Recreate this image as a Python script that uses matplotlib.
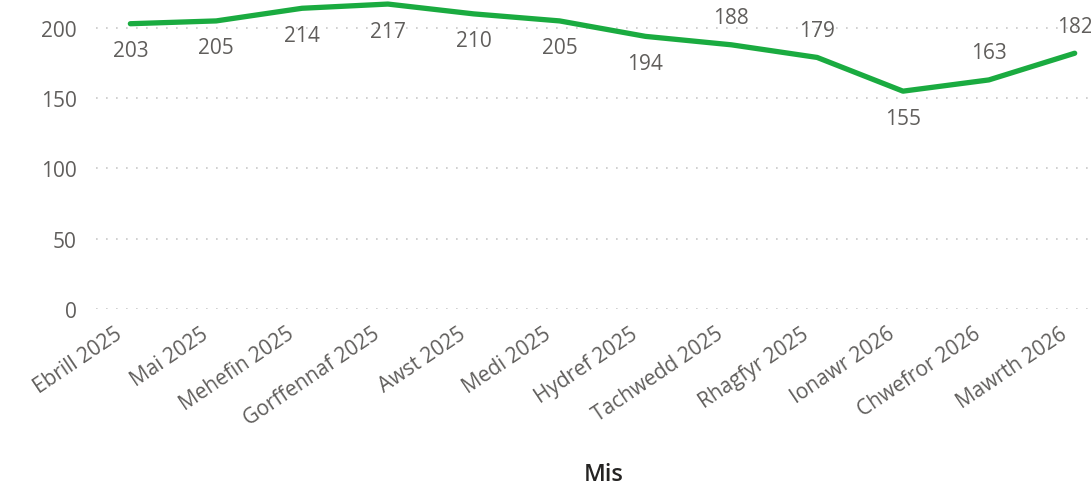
import matplotlib
matplotlib.use("Agg")
import matplotlib.pyplot as plt
import matplotlib.transforms as mtransforms

months = ["Ebrill 2025", "Mai 2025", "Mehefin 2025", "Gorffennaf 2025", "Awst 2025",
          "Medi 2025", "Hydref 2025", "Tachwedd 2025", "Rhagfyr 2025", "Ionawr 2026",
          "Chwefror 2026", "Mawrth 2026"]
values = [203, 205, 214, 217, 210, 205, 194, 188, 179, 155, 163, 182]
label_pos = ["below", "below", "below", "below", "below", "below", "below",
             "above", "above", "below", "above", "above"]
yticks = [0, 50, 100, 150, 200]

plt.rcParams['font.family'] = ['Open Sans', 'DejaVu Sans']

fig = plt.figure(figsize=(10.91, 4.85), dpi=100)
ax = fig.add_axes([0.088, 0.361, 0.912, 0.639])

x = list(range(len(months)))
ax.plot(x, values, color="#1AAB40", linewidth=3.8, solid_capstyle="round",
        solid_joinstyle="round", zorder=3, clip_on=False)

for xi, v, p in zip(x, values, label_pos):
    off = -27 if p == "below" else 27
    ax.annotate(str(v), (xi, v), xytext=(0, off), textcoords="offset pixels",
                ha="center", va="center", fontsize=15, color="#605E5C",
                annotation_clip=False)

ax.set_xlim(-0.4, 11.19)
ax.set_ylim(0, 220.6)
ax.set_yticks(yticks)
ax.set_yticklabels([str(t) for t in yticks], fontsize=15, color="#605E5C")
ax.set_xticks(x)
ax.tick_params(axis="both", length=0)
ax.tick_params(axis="y", pad=14)
ax.tick_params(axis="x", pad=10)
ax.set_xticklabels(months, rotation=34, ha="right", va="top", rotation_mode="anchor",
                   fontsize=15, color="#605E5C")
shift = mtransforms.ScaledTranslation(-16 / 100, 0, fig.dpi_scale_trans)
for lbl in ax.get_xticklabels():
    lbl.set_transform(lbl.get_transform() + shift)

ax.grid(axis="y", color="#C8C8C8", linestyle=(0, (1, 5)), linewidth=1.2)
ax.set_axisbelow(True)
for s in ax.spines.values():
    s.set_visible(False)

ax.set_xlabel("Mis", fontsize=17, color="#252423", fontweight="semibold", va="center")
ax.xaxis.set_label_coords(0.51, -0.532)

fig.savefig("out.png", dpi=100)
